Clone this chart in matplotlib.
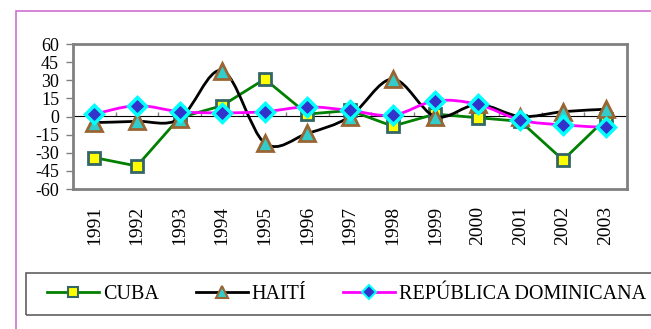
import numpy as np
import matplotlib
matplotlib.use('Agg')
import matplotlib.pyplot as plt
from matplotlib.path import Path
from matplotlib.patches import PathPatch, Rectangle
from matplotlib.lines import Line2D

# Datos (variación %)
anios = ['1991', '1992', '1993', '1994', '1995', '1996', '1997',
         '1998', '1999', '2000', '2001', '2002', '2003']
cuba = [-34, -41, -1, 9, 31, 2, 5, -8, 2, -1, -4, -36, -2]
haiti = [-5, -4, -2, 38, -22, -14, 0, 31, 0, 10, 0, 4, 6]
rep_dom = [2, 9, 4, 3, 4, 8, 5, 1, 13, 10, -3, -7, -9]

plt.rcParams['font.family'] = ['Liberation Serif', 'DejaVu Serif']
plt.rcParams['axes.unicode_minus'] = False

W, H = 651, 329
fig = plt.figure(figsize=(W / 100, H / 100), dpi=100)
fig.patch.set_facecolor('white')

# marco rosado exterior
fig.add_artist(Rectangle((16 / W, -0.1), 2, 1 - 11 / H + 0.1, transform=fig.transFigure,
                         fill=False, edgecolor='#d070d0', linewidth=1.2))

ax = fig.add_axes([73 / W, 1 - 189 / H, (627 - 73) / W, (189 - 44) / H])
x = np.arange(len(anios))


def curva_suave(xs, ys):
    # curva tipo Excel (Catmull-Rom convertida a Bezier)
    p = np.column_stack([xs, ys]).astype(float)
    n = len(p)
    verts = [p[0]]
    codes = [Path.MOVETO]
    for i in range(n - 1):
        p0 = p[i - 1] if i > 0 else p[i]
        p3 = p[i + 2] if i + 2 < n else p[i + 1]
        c1 = p[i] + (p[i + 1] - p0) / 6
        c2 = p[i + 1] - (p3 - p[i]) / 6
        verts += [c1, c2, p[i + 1]]
        codes += [Path.CURVE4] * 3
    return Path(verts, codes)


# CUBA: línea recta
ax.plot(x, cuba, color='#008000', lw=2, marker='s', ms=9, mfc='#ffff00',
        mec='#336666', mew=2, zorder=3)

# HAITÍ: línea suavizada
ax.add_patch(PathPatch(curva_suave(x, haiti), fill=False, edgecolor='black', lw=2, zorder=4))
ax.plot(x, haiti, ls='none', marker='^', ms=11, mfc='#33cccc', mec='#996633', mew=2, zorder=4)

# REPÚBLICA DOMINICANA: línea suavizada
ax.add_patch(PathPatch(curva_suave(x, rep_dom), fill=False, edgecolor='#ff00ff', lw=2, zorder=5))
ax.plot(x, rep_dom, ls='none', marker='D', ms=9, mfc='#3333cc', mec='#00ffff', mew=2.5, zorder=5)

ax.set_xlim(-0.5, len(anios) - 0.5)
ax.set_ylim(-60, 60)
ax.set_yticks(np.arange(-60, 61, 15))
ax.set_xticks(x)
ax.set_xticklabels(anios, rotation=90, fontsize=14)
ax.tick_params(axis='x', length=0, pad=12)
ax.tick_params(axis='y', direction='out', length=5, width=1, color='#808080', pad=5, labelsize=13)

for s in ax.spines.values():
    s.set_color('#808080')
    s.set_linewidth(2)

# eje de categorías en y = 0
eje0 = ax.secondary_xaxis(0.5)
eje0.set_xticks(np.arange(-0.5, len(anios), 1.0))
eje0.set_xticklabels([])
eje0.tick_params(direction='out', length=3, width=1, color='#808080')
eje0.spines['bottom'].set_color('#808080')
eje0.spines['bottom'].set_linewidth(1)

# leyenda
fig.add_artist(Rectangle((26 / W, 1 - 315 / H), 1, (315 - 273) / H, transform=fig.transFigure,
                         fill=False, edgecolor='#606060', linewidth=1.2))
handles = [
    Line2D([], [], color='#008000', lw=2, marker='s', ms=7, mfc='#ffff00', mec='#336666', mew=1.5),
    Line2D([], [], color='black', lw=2, marker='^', ms=8, mfc='#33cccc', mec='#996633', mew=1.5),
    Line2D([], [], color='#ff00ff', lw=2, marker='D', ms=7, mfc='#3333cc', mec='#00ffff', mew=1.5),
]
fig.legend(handles, ['CUBA', 'HAITÍ', 'REPÚBLICA DOMINICANA'], ncol=3, frameon=False,
           loc='center left', bbox_to_anchor=(47 / W, 1 - 294 / H), borderpad=0,
           borderaxespad=0, handlelength=2.6, handletextpad=0.2, columnspacing=1.8,
           fontsize=14.5)

fig.savefig('out.png', dpi=100)
